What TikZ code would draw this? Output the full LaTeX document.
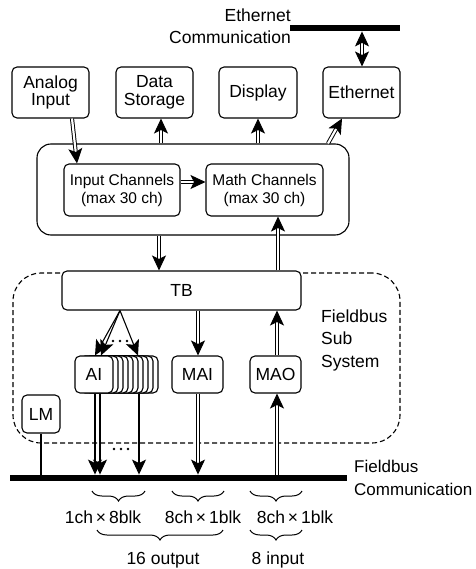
\documentclass[tikz,border=0pt]{standalone}
\usepackage{fontspec}
\setmainfont{Liberation Sans}
\usetikzlibrary{arrows.meta,decorations.pathreplacing,calc}
\tikzset{>={Stealth[length=15pt,width=14pt,inset=3.5pt]}}
\begin{document}
\begin{tikzpicture}[x=1pt,y=-1pt,
  font=\fontsize{17.5}{17.5}\selectfont,
  box/.style={draw, line width=1.1pt, rounded corners=5pt, fill=white,
              align=center, inner sep=0pt},
  chbox/.style={box, minimum width=117pt, minimum height=52pt,
                font=\fontsize{15.5}{18}\selectfont},
  dbl/.style={double, double distance=2.2pt, line width=0.95pt},
  sgl/.style={line width=1.1pt},
  bus/.style={fill=black, inner sep=0pt, minimum height=6.5pt},
  lbl/.style={inner sep=0pt, font=\fontsize{17.5}{22.5}\selectfont},
  brc/.style={decorate, decoration={brace, mirror, amplitude=10pt}, line width=1pt}]

\useasboundingbox (0,0) rectangle (475,569);

% ---- Ethernet bus ----
\node[bus, minimum width=110pt] (ebar) at (345,28) {};
\node[lbl, align=right, anchor=east] (etext) at (291,26) {Ethernet\\Communication};

% ---- top row of function boxes ----
\node[box, minimum width=77pt, minimum height=51pt] (ain)  at (50.5,92.5) {Analog\\Input};
\node[box, minimum width=77pt, minimum height=51pt] (dst)  at (154.5,92.5) {Data\\Storage};
\node[box, minimum width=78pt, minimum height=51pt] (disp) at (258,92.5) {Display};
\node[box, minimum width=77pt, minimum height=51pt] (eth)  at (361.5,92.5) {Ethernet};

% ---- channel core ----
\node[box, rounded corners=14pt, minimum width=312pt, minimum height=91pt] (core) at (193,189.5) {};
\node[chbox, minimum width=116pt] (inch) at (122,190) {Input Channels\\(max 30 ch)};
\node[chbox] (mach) at (264.5,190) {Math Channels\\(max 30 ch)};

% ---- fieldbus subsystem ----
\node[draw, line width=1.1pt, dash pattern=on 5pt off 3pt, rounded corners=28pt,
      minimum width=387pt, minimum height=170pt, inner sep=0pt] (fss) at (206.5,358) {};
\node[lbl, align=left, anchor=west] (fsstext) at (321,340) {Fieldbus\\Sub\\System};

\node[box, minimum width=239pt, minimum height=39pt] (tb) at (181.5,290.5) {TB};

% stacked AI blocks behind the front one
\foreach \i in {9,...,1}
  \draw[line width=1.1pt, rounded corners=5pt, fill=white]
    ({75+5*\i},356) rectangle ({113+5*\i},393);
\node[box, minimum width=38pt, minimum height=37pt] (ai)  at (94,374.5) {AI};
\node[box, minimum width=51pt, minimum height=37pt] (mai) at (197.5,374.5) {MAI};
\node[box, minimum width=51pt, minimum height=37pt] (mao) at (275.5,374.5) {MAO};
\node[box, minimum width=38pt, minimum height=38pt] (lm)  at (41,414) {LM};

% ---- fieldbus ----
\node[bus, minimum width=337pt] (fbus) at (178.5,478) {};
\node[lbl, align=left, anchor=west, font=\fontsize{17}{23.5}\selectfont] (ftext) at (354,478) {Fieldbus\\Communication};

% ---- connectors: top ----
\draw[dbl, <->] (362,0 |- ebar.south) -- (362,0 |- eth.north);
\draw[dbl, ->] (72,0 |- ain.south) -- (77,0 |- inch.north);
\draw[dbl, ->] (161,0 |- core.north) -- (161,0 |- dst.south);
\draw[dbl, ->] (258,0 |- core.north) -- (258,0 |- disp.south);
\draw[dbl, ->] (328,0 |- core.north) -- (342,0 |- eth.south);
\draw[dbl, ->] ([yshift=8pt]inch.east) -- ([yshift=8pt]mach.west);

% ---- connectors: core <-> TB ----
\draw[dbl, ->] (159,0 |- core.south) -- (159,0 |- tb.north);
\draw[dbl, ->] (278,0 |- tb.north) -- (278,0 |- mach.south);

% ---- connectors: TB <-> blocks ----
\coordinate (fan) at (120,0 |- tb.south);
\draw[sgl, ->] (fan) -- (95,0 |- ai.north);
\draw[sgl, ->] (fan) -- (101,0 |- ai.north);
\draw[sgl, ->] (fan) -- (138,0 |- ai.north);
\foreach \x in {113,120,127} \fill (\x,341) circle (1.3pt);
\draw[dbl, ->] (198,0 |- tb.south) -- (198,0 |- mai.north);
\draw[dbl, ->] (277,0 |- mao.north) -- (277,0 |- tb.south);

% ---- connectors: blocks <-> fieldbus ----
\draw[sgl, ->] (95,0 |- ai.south) -- (95,0 |- fbus.north);
\draw[sgl, ->] (100,0 |- ai.south) -- (100,0 |- fbus.north);
\draw[sgl, ->] (139,0 |- ai.south) -- (139,0 |- fbus.north);
\foreach \x in {114,121,128} \fill (\x,449) circle (1.3pt);
\draw[dbl, ->] (198,0 |- mai.south) -- (198,0 |- fbus.north);
\draw[dbl, ->] (277,0 |- fbus.north) -- (277,0 |- mao.south);
\draw[sgl] (lm.south) -- (lm.south |- fbus.north);

% ---- channel counts ----
\draw[brc] (92,491) -- (145,491);
\draw[brc] (172,491) -- (224,491);
\draw[brc] (250,491) -- (302,491);
\node[inner sep=0pt] (c1) at (103,517) {1ch\,×\,8blk};
\node[inner sep=0pt] (c2) at (203,517) {8ch\,×\,1blk};
\node[inner sep=0pt] (c3) at (295,517) {8ch\,×\,1blk};
\draw[brc] (97,530) -- (223,530);
\draw[brc] (250,530) -- (302,530);
\node[inner sep=0pt] (o16) at (163,560) {16 output};
\node[inner sep=0pt] (i8)  at (278,560) {8 input};
\end{tikzpicture}
\end{document}
